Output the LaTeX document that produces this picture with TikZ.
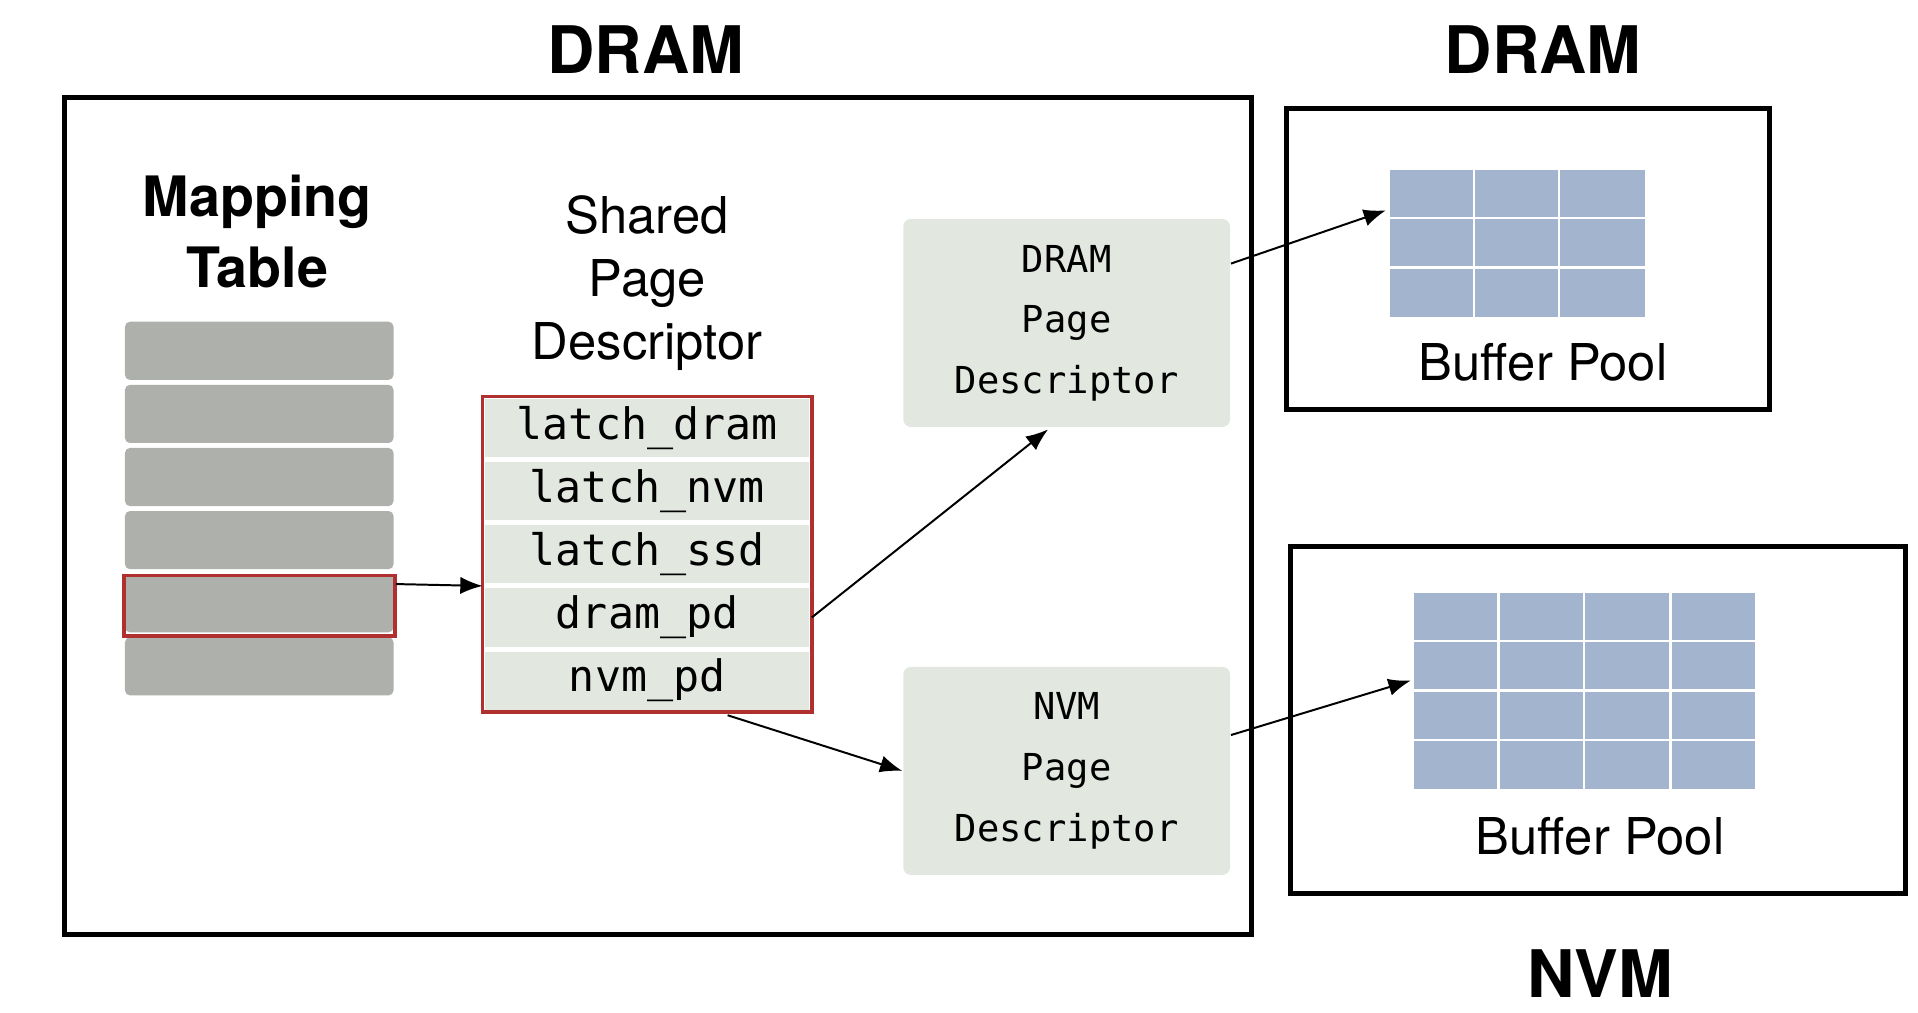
\documentclass[tikz,border=0pt]{standalone}
\usepackage{fontspec}
\setmainfont{TeX Gyre Heros}
\setmonofont{DejaVu Sans Mono}
\usetikzlibrary{arrows.meta,positioning}
\definecolor{maprow}{HTML}{AEB1AB}
\definecolor{pdfill}{HTML}{E2E7E0}
\definecolor{hired}{HTML}{B03030}
\definecolor{pool}{HTML}{A2B4CE}

\begin{document}
\begin{tikzpicture}[x=0.5pt, y=-0.5pt, >={Latex[length=9pt,width=7pt]}, thick]
    \tikzset{title/.style={font=\fontsize{26.5}{30}\selectfont\bfseries}}
    \tikzset{frame/.style={draw, line width=2pt}}
    \tikzset{row/.style={fill=maprow, rounded corners=2pt}}
    \tikzset{cell/.style={draw=white, line width=1pt, fill=pdfill, minimum width=132pt, minimum height=24.5pt, inner sep=0pt, font=\ttfamily\fontsize{17.5}{20}\selectfont}}
    \tikzset{pd/.style={fill=pdfill, rounded corners=3pt, minimum width=132pt, minimum height=84pt, align=center, font=\ttfamily\fontsize{15}{24.5}\selectfont}}
    \tikzset{lbl/.style={font=\fontsize{20.5}{25.5}\selectfont, align=center}}
    \useasboundingbox (0,0) rectangle (1550,818);

    % frames and titles
    \draw[frame] (52,79) rectangle (1011,755);
    \draw[frame] (1040,88) rectangle (1430,331);
    \draw[frame] (1043,442) rectangle (1540,722);
    \node[title] (tdram) at (522,40) {DRAM};
    \node[title] (tbuf) at (1247,40) {DRAM};
    \node[title] (tnvm) at (1293,787) {NVM};

    % mapping table
    \node[title, font=\fontsize{22.5}{29}\selectfont\bfseries, align=center] (mtl) at (208,187) {Mapping\\Table};
    \foreach \i in {0,...,5}
        \fill[row] (101,260+51*\i) rectangle (318,307+51*\i);
    \draw[hired, line width=1.5pt] (100,465) rectangle (319,514);
    \coordinate (mt) at (320,472);

    % shared page descriptor
    \node[lbl] (spl) at (523,229) {Shared\\Page\\Descriptor};
    \node[cell] (c1) at (523,346) {latch\_dram};
    \node[cell, below=0pt of c1] (c2) {latch\_nvm};
    \node[cell, below=0pt of c2] (c3) {latch\_ssd};
    \node[cell, below=0pt of c3] (c4) {dram\_pd};
    \node[cell, below=0pt of c4] (c5) {nvm\_pd};
    \draw[hired, line width=1.5pt] (c1.north west) rectangle (c5.south east);

    % page descriptors
    \node[pd] (dpd) at (862,261) {DRAM\\Page\\Descriptor};
    \node[pd] (npd) at (862,623) {NVM\\Page\\Descriptor};

    % buffer pools
    \fill[pool] (1123,137) rectangle (1329,256);
    \foreach \x in {1191,1260} \draw[white, line width=1pt] (\x,137) -- (\x,256);
    \foreach \y in {176,216} \draw[white, line width=1pt] (1123,\y) -- (1329,\y);
    \node[lbl] (bp1) at (1247,293) {Buffer Pool};
    \fill[pool] (1143,479) rectangle (1418,638);
    \foreach \x in {1211,1280,1350} \draw[white, line width=1pt] (\x,479) -- (\x,638);
    \foreach \y in {518,558,598} \draw[white, line width=1pt] (1143,\y) -- (1418,\y);
    \node[lbl] (bp2) at (1293,676) {Buffer Pool};
    \coordinate (g1) at (1120,170);
    \coordinate (g2) at (1140,550);

    % arrows
    \draw[->] (mt) -- (c3.south west);
    \draw[->] (c4.east) -- (847,347);
    \draw[->] (588,578) -- (npd.west);
    \draw[->] (dpd.east |- 0,213) -- (g1);
    \draw[->] (npd.east |- 0,594) -- (g2);
\end{tikzpicture}
\end{document}
